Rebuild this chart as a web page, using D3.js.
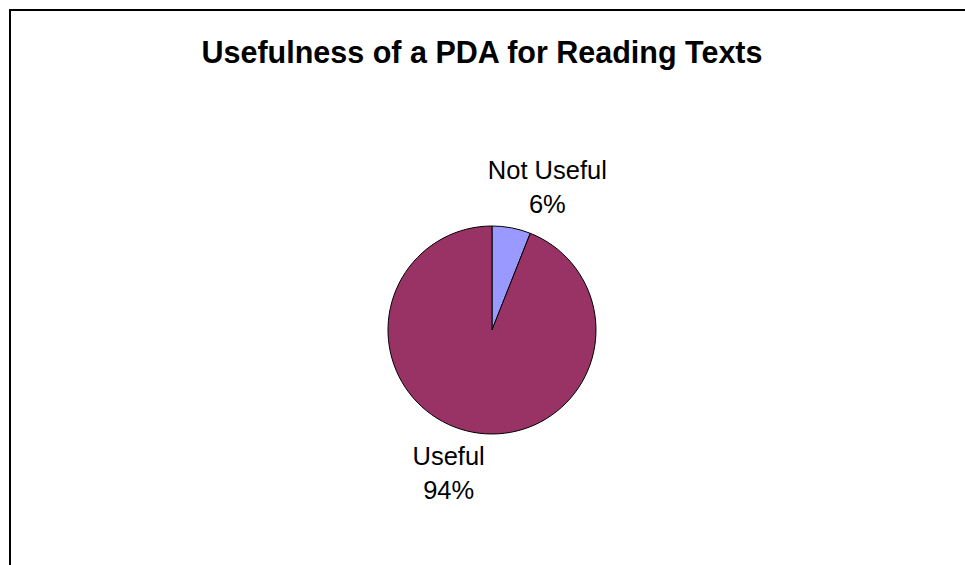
<!DOCTYPE html>
<html>
<head>
<meta charset="utf-8">
<script src="https://cdn.jsdelivr.net/npm/d3@7"></script>
<style>
  body { margin: 0; background: #fff; }
  text { font-family: Arial, "Liberation Sans", sans-serif; }
</style>
</head>
<body>
<div id="chart"></div>
<script>
// Data
const categories = ["Not Useful", "Useful"];
const values = [6, 94];
const colors = ["#9999FF", "#993366"];

const width = 965, height = 565;
const cx = 492, cy = 330, radius = 104;

const svg = d3.select("#chart").append("svg")
    .attr("width", width)
    .attr("height", height);

// Chart border (right and bottom run off the page)
svg.append("rect")
    .attr("x", 10)
    .attr("y", 10)
    .attr("width", 980)
    .attr("height", 600)
    .attr("fill", "none")
    .attr("stroke", "#000")
    .attr("stroke-width", 2);

// Title
svg.append("text")
    .attr("x", 482)
    .attr("y", 63)
    .attr("text-anchor", "middle")
    .style("font-size", "30.5px")
    .style("font-weight", "bold")
    .text("Usefulness of a PDA for Reading Texts");

const pieData = d3.pie().sort(null)(values);
const arc = d3.arc().innerRadius(0).outerRadius(radius);

const g = svg.append("g")
    .attr("transform", `translate(${cx},${cy})`);

g.selectAll("path")
    .data(pieData)
    .join("path")
    .attr("d", arc)
    .attr("fill", (d, i) => colors[i])
    .attr("stroke", "#000")
    .attr("stroke-width", 1);

// Labels sit outside the pie near each slice's mid angle
const labelArc = d3.arc().innerRadius(146).outerRadius(146);
const total = d3.sum(values);

const labels = g.selectAll("g.label")
    .data(pieData)
    .join("g")
    .attr("class", "label")
    .attr("transform", d => {
        const [x, y] = labelArc.centroid(d);
        return `translate(${x + (x > 0 ? 28 : -16)},${y})`;
    });

labels.append("text")
    .attr("text-anchor", "middle")
    .attr("y", -8)
    .style("font-size", "25.5px")
    .text((d, i) => categories[i]);

labels.append("text")
    .attr("text-anchor", "middle")
    .attr("y", 26)
    .style("font-size", "25.5px")
    .text(d => Math.round(d.value / total * 100) + "%");
</script>
</body>
</html>
